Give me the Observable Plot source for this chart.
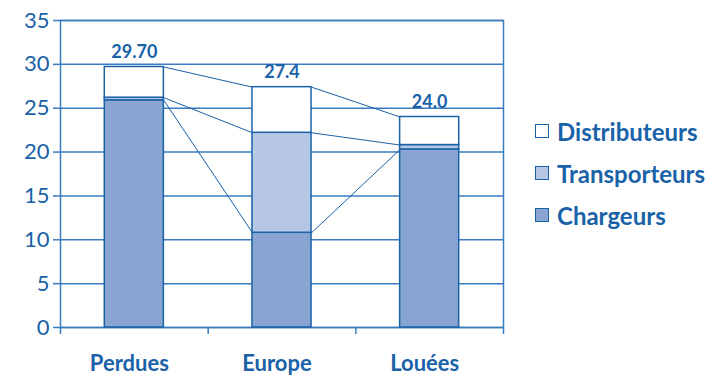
<!DOCTYPE html>
<html><head><meta charset="utf-8">
<script src="https://cdn.jsdelivr.net/npm/d3@7"></script>
<script src="https://cdn.jsdelivr.net/npm/@observablehq/plot@0.6"></script>
<style>
body{margin:0;background:#fff;font-family:Lato,sans-serif;}
#wrap{position:relative;width:712px;height:375px;}
.legend{position:absolute;left:535px;top:110px;color:#1a62a8;font-weight:700;font-size:24px;}
.item{display:flex;align-items:center;height:42px;}
.sw{width:12px;height:12px;border:1.5px solid #1a62a8;margin-right:8px;}
</style></head><body><div id="wrap"></div>
<script>
const categories = ["Perdues","Europe","Louées"];
const chargeurs = [25.9, 10.8, 20.3];
const transporteurs = [0.3, 11.4, 0.5];
const distributeurs = [3.5, 5.2, 3.2];
const totalLabels = ["29.70","27.4","24.0"];
const series = ["Chargeurs","Transporteurs","Distributeurs"];
const colors = ["#88a4d1","#b5c7e5","#ffffff"];
const yTicks = [0,5,10,15,20,25,30,35];

const blue = "#1a62a8";
const lineBlue = "#3a7cbf";
const values = [chargeurs, transporteurs, distributeurs];

const rows = [];
const tops = categories.map(() => []);
categories.forEach((c, i) => {
  let acc = 0;
  series.forEach((s, k) => {
    const v = values[k][i];
    rows.push({i, series: s, y1: acc, y2: acc + v});
    acc += v;
    tops[i].push(acc);
  });
});
const totals = tops.map(t => t[t.length - 1]);
const links = [];
for (let i = 0; i < categories.length - 1; i++) {
  series.forEach((s, k) => links.push({i, a: tops[i][k], b: tops[i + 1][k]}));
}

const chart = Plot.plot({
  width: 712, height: 375,
  marginLeft: 60, marginRight: 209, marginTop: 20, marginBottom: 48,
  x: {domain: [0, 3]},
  y: {domain: [0, 35]},
  color: {domain: series, range: colors},
  style: {fontFamily: "Lato, sans-serif", color: blue, background: "white"},
  marks: [
    Plot.gridY(yTicks, {stroke: lineBlue, strokeOpacity: 1, strokeWidth: 1.5}),
    Plot.frame({stroke: lineBlue, strokeWidth: 1.5}),
    Plot.rectY(rows, {x1: d => d.i + 0.3, x2: d => d.i + 0.7, y1: "y1", y2: "y2", fill: "series", stroke: blue, strokeWidth: 1.5}),
    Plot.link(links, {x1: d => d.i + 0.7, x2: d => d.i + 1.3, y1: "a", y2: "b", stroke: blue, strokeWidth: 1}),
    Plot.text(categories, {x: (d, i) => i + 0.5, y: (d, i) => totals[i], text: (d, i) => totalLabels[i], dy: -15, fontSize: 18, fontWeight: "bold", fill: blue}),
    Plot.axisY({ticks: yTicks, tickSize: 7, tickPadding: 4, fontSize: 22, label: null, stroke: lineBlue, strokeWidth: 1.5}),
    Plot.axisX({ticks: [0, 1, 2, 3], tickSize: 7, tickFormat: () => "", label: null, stroke: lineBlue, strokeWidth: 1.5}),
    Plot.axisX({ticks: categories.map((c, i) => i + 0.5), tickSize: 0, tickPadding: 28, dx: -5, tickFormat: d => categories[Math.floor(d)], fontSize: 22, fontWeight: "bold", label: null})
  ]
});
const wrap = document.getElementById("wrap");
wrap.appendChild(chart);
const legend = document.createElement("div");
legend.className = "legend";
[...series].reverse().forEach(s => {
  const it = document.createElement("div");
  it.className = "item";
  const sw = document.createElement("span");
  sw.className = "sw";
  sw.style.background = colors[series.indexOf(s)];
  const t = document.createElement("span");
  t.textContent = s;
  it.appendChild(sw); it.appendChild(t);
  legend.appendChild(it);
});
wrap.appendChild(legend);
</script></body></html>
